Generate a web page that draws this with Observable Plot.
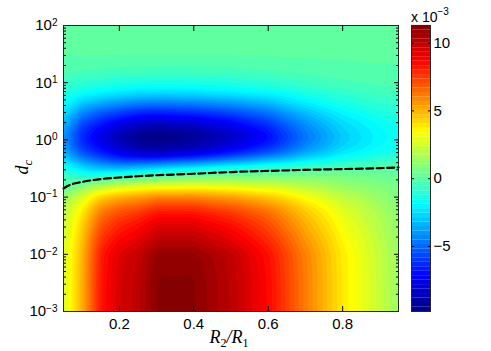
<!DOCTYPE html>
<html><head><meta charset="utf-8">
<script src="https://cdn.jsdelivr.net/npm/d3@7"></script>
<script src="https://cdn.jsdelivr.net/npm/@observablehq/plot@0.6"></script>
<style>
html,body{margin:0;padding:0;background:#fff;}
#chart{position:relative;width:491px;height:351px;overflow:hidden;background:#fff;}
#chart svg{position:absolute;left:0;top:0;}
</style></head><body><div id="chart"></div>
<script>
// R2/R1 sample columns
const ratioX = [0.05, 0.1, 0.15, 0.2, 0.25, 0.3, 0.4, 0.5, 0.6, 0.7, 0.8, 0.9, 0.95];
// d_c sample rows (log spaced, 1e-3 .. 1e2)
const dcRows = [0.001, 0.003162, 0.01, 0.03162, 0.05623, 0.1, 0.1413, 0.1995, 0.2818, 0.3981,
  0.5623, 0.7943, 1.122, 1.585, 2.239, 3.162, 5.012, 7.943, 15.85, 31.62, 100];
// field values (x 10^-3): one array per R2/R1 column, one entry per dcRows value
const fieldColumns = [
  [2.5, 2.5, 2.45, 2.15, 1.85, 1.2, 0.0, -0.5, -1.1, -2.1, -3.2, -3.8, -4.0, -3.6, -3.0, -2.3, -1.6, -0.9, -0.25, 0, 0],
  [5.0, 5.0, 4.9, 4.3, 3.7, 2.6, 1.2, -0.4, -2.0, -3.6, -5.3, -6.2, -6.5, -6.1, -5.3, -4.2, -2.6, -1.3, -0.33, 0, 0],
  [8.3, 8.3, 8.15, 7.0, 6.1, 4.4, 2.4, 0.1, -2.5, -4.6, -6.4, -7.4, -7.8, -7.3, -6.3, -5.1, -3.1, -1.5, -0.4, 0, 0],
  [9.5, 9.5, 9.35, 8.0, 7.0, 5.1, 3.0, 0.6, -2.5, -5.2, -7.4, -8.4, -8.8, -8.2, -7.1, -5.7, -3.5, -1.7, -0.44, 0, 0],
  [10.0, 10.0, 9.85, 8.5, 7.4, 5.5, 3.3, 0.9, -1.9, -5.1, -8.0, -9.1, -9.5, -8.9, -7.7, -6.2, -3.8, -1.85, -0.48, 0, 0],
  [11.1, 11.1, 10.9, 9.3, 8.2, 6.0, 3.6, 1.1, -1.4, -4.9, -8.3, -9.4, -9.8, -9.2, -7.95, -6.35, -3.9, -1.9, -0.5, 0, 0],
  [11.1, 11.1, 10.9, 9.3, 8.2, 6.0, 3.7, 1.4, -0.8, -4.2, -7.7, -8.9, -9.4, -8.8, -7.6, -6.1, -3.75, -1.85, -0.5, 0, 0],
  [10.1, 10.1, 9.95, 8.5, 7.45, 5.45, 3.5, 1.4, -0.3, -3.3, -6.5, -8.0, -8.5, -7.95, -6.9, -5.5, -3.4, -1.65, -0.45, 0, 0],
  [8.6, 8.6, 8.45, 7.2, 6.35, 4.6, 3.0, 1.3, 0.05, -2.4, -5.2, -6.6, -7.1, -6.6, -5.75, -4.6, -2.85, -1.4, -0.35, 0, 0],
  [6.1, 6.1, 6.0, 5.1, 4.5, 3.3, 2.2, 1.1, 0.25, -1.6, -3.5, -4.45, -4.8, -4.5, -3.9, -3.1, -1.9, -0.95, -0.25, 0, 0],
  [3.8, 3.8, 3.75, 3.2, 2.8, 2.05, 1.4, 0.8, 0.3, -0.95, -2.2, -2.8, -3.0, -2.8, -2.45, -1.95, -1.2, -0.6, -0.15, 0, 0],
  [2.2, 2.2, 2.15, 1.85, 1.6, 1.2, 0.85, 0.5, 0.25, -0.5, -1.5, -1.9, -2.0, -1.9, -1.65, -1.3, -0.8, -0.4, -0.1, 0, 0],
  [1.3, 1.3, 1.28, 1.12, 0.98, 0.72, 0.55, 0.33, 0.2, -0.3, -1.3, -1.6, -1.7, -1.6, -1.4, -1.1, -0.7, -0.35, -0.09, 0, 0]
];
// dashed zero line
const zeroX = [0.05, 0.07, 0.1, 0.15, 0.2, 0.25, 0.3, 0.4, 0.5, 0.6, 0.7, 0.8, 0.9, 0.95];
const zeroDc = [0.1413, 0.166, 0.1841, 0.2065, 0.2203, 0.2317, 0.241, 0.2559, 0.2742, 0.2871, 0.2992, 0.309, 0.3206, 0.3311];
// ticks
const xTicks = [0.2, 0.4, 0.6, 0.8];
const yTicks = [1e-3, 1e-2, 1e-1, 1, 10, 100];
const colorTicks = [-5, 0, 5, 10];
const colorMin = -9.8, colorMax = 11.3;

const samples = ratioX.flatMap((r, j) => dcRows.map((dc, i) => ({r, dc, v: fieldColumns[j][i]})));
const zeroLine = zeroX.map((r, i) => ({r, dc: zeroDc[i]}));
const minorTicks = [];
for (let e = -3; e < 2; e++) for (let k = 2; k < 10; k++) minorTicks.push(k * Math.pow(10, e));

const jetStops = [0, 0.125, 0.375, 0.625, 0.875, 1];
const jetColors = ["#000080", "#0000ff", "#00ffff", "#ffff00", "#ff0000", "#800000"];
const step = 0.3;
const jetDomain = jetStops.map(t => colorMin + t * (colorMax - colorMin));
const colorBar = {type: "linear", domain: jetDomain, range: jetColors, interpolate: "rgb", clamp: true};
// contour bands are coloured by their mid value
const colorMain = {...colorBar, domain: jetDomain.map(v => v - step / 2)};
const levels = d3.range(72).map(k => +(-9.95 + k * step).toFixed(3));
const font = "'Liberation Sans', Arial, Helvetica, sans-serif";
const serif = "'Liberation Serif', 'DejaVu Serif', serif";
const W = 491, H = 351;
const st = {fontFamily: font, fontSize: "15px", background: "transparent", color: "#000", overflow: "visible"};
const noText = () => "";

const main = Plot.plot({
  width: W, height: H, marginLeft: 63, marginRight: 93, marginTop: 25, marginBottom: 40,
  style: st,
  x: {domain: [0.05, 0.95]},
  y: {type: "log", domain: [1e-3, 1e2]},
  color: colorMain,
  marks: [
    Plot.contour(samples, {x: "r", y: "dc", fill: "v", interpolate: "barycentric", thresholds: levels, pixelSize: 1, blur: 3, stroke: "none"}),
    Plot.line(zeroLine, {x: "r", y: "dc", stroke: "#000", strokeWidth: 2.2, strokeDasharray: "7,3.5", curve: "monotone-x"}),
    Plot.axisX({anchor: "bottom", ticks: xTicks, tickSize: -5, tickFormat: noText, label: null}),
    Plot.axisX({anchor: "top", ticks: xTicks, tickSize: -5, tickFormat: noText, label: null}),
    Plot.axisX({anchor: "bottom", ticks: xTicks, tickSize: 0, tickPadding: 7, tickFormat: d => d.toFixed(1), label: null}),
    Plot.axisY({anchor: "left", ticks: yTicks, tickSize: -5, tickFormat: noText, label: null}),
    Plot.axisY({anchor: "right", ticks: yTicks, tickSize: -5, tickFormat: noText, label: null}),
    Plot.axisY({anchor: "left", ticks: minorTicks, tickSize: -3, tickFormat: noText, label: null}),
    Plot.axisY({anchor: "right", ticks: minorTicks, tickSize: -3, tickFormat: noText, label: null}),
    Plot.axisY({anchor: "left", ticks: yTicks, tickSize: 0, tickPadding: 6, tickFormat: d => "10^" + Math.round(Math.log10(d)), label: null}),
    Plot.frame({stroke: "#262626"})
  ]
});

const bandH = (colorMax - colorMin) / 64;
const bands = d3.range(64).map(i => colorMin + i * bandH);
const cb = Plot.plot({
  width: W, height: H, marginLeft: 411, marginRight: 61, marginTop: 25, marginBottom: 40,
  style: st,
  x: {domain: [0, 1], axis: null},
  y: {domain: [colorMin, colorMax]},
  color: colorBar,
  marks: [
    Plot.rect(bands, {x1: 0, x2: 1, y1: d => d, y2: d => d + bandH * 1.02, fill: d => d + bandH / 2}),
    Plot.axisY({anchor: "left", ticks: colorTicks, tickSize: -3, tickFormat: noText, label: null}),
    Plot.axisY({anchor: "right", ticks: colorTicks, tickSize: -3, tickFormat: noText, label: null}),
    Plot.axisY({anchor: "right", ticks: colorTicks, tickSize: 0, tickPadding: 3, label: null}),
    Plot.frame({stroke: "#262626"})
  ]
});

const chart = document.getElementById("chart");
chart.appendChild(main);
chart.appendChild(cb);

// superscript exponents on y tick labels
d3.select(main).selectAll('g[aria-label="y-axis tick label"] text').each(function () {
  const s = this.textContent;
  if (!s.startsWith("10^")) return;
  const e = s.slice(3).replace("-", "\u2212");
  this.textContent = "10";
  d3.select(this).append("tspan").attr("dy", "-0.45em").attr("font-size", "10px").text(e);
});

// axis labels
const ms = d3.select(main);
const xl = ms.append("text").attr("x", 229).attr("y", 343).attr("text-anchor", "middle")
  .attr("font-family", serif).attr("font-style", "italic").attr("font-size", 18).attr("fill", "#000");
xl.append("tspan").text("R");
xl.append("tspan").attr("dy", 4).attr("font-size", 12).attr("font-style", "normal").text("2");
xl.append("tspan").attr("dy", -4).text("/R");
xl.append("tspan").attr("dy", 4).attr("font-size", 12).attr("font-style", "normal").text("1");

const yl = ms.append("text").attr("transform", "translate(28,167) rotate(-90)").attr("text-anchor", "middle")
  .attr("font-family", serif).attr("font-style", "italic").attr("font-size", 18).attr("fill", "#000");
yl.append("tspan").text("d");
yl.append("tspan").attr("dy", 4).attr("font-size", 13).text("c");

// colorbar multiplier
const cl = d3.select(cb).append("text").attr("x", 430).attr("y", 21.5).attr("font-family", font)
  .attr("font-size", 14).attr("fill", "#000");
cl.append("tspan").text("x 10");
cl.append("tspan").attr("dy", -7).attr("font-size", 10).text("\u22123");
</script></body></html>
